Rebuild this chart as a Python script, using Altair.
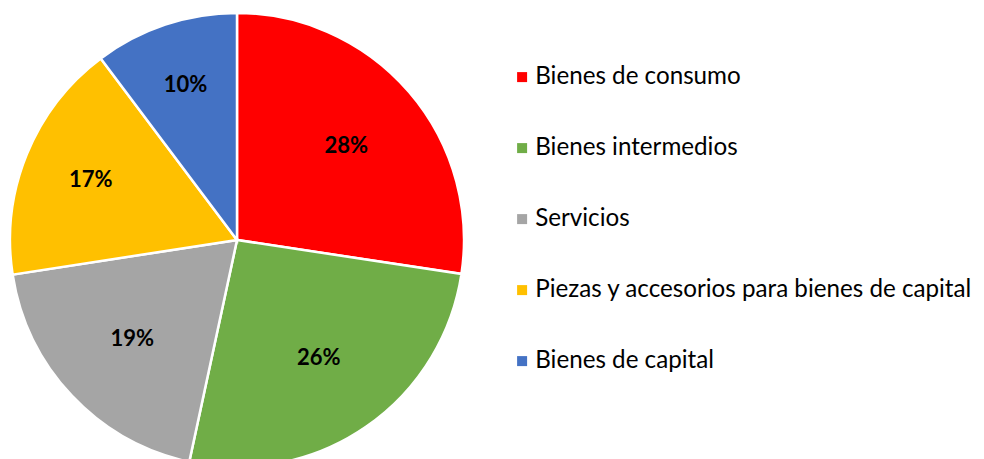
import altair as alt
import pandas as pd

categories = ["Bienes de consumo", "Bienes intermedios", "Servicios",
              "Piezas y accesorios para bienes de capital", "Bienes de capital"]
values = [27.4, 26.0, 19.2, 17.2, 10.25]
labels = ["28%", "26%", "19%", "17%", "10%"]
colors = ["#FF0000", "#70AD47", "#A5A5A5", "#FFC000", "#4472C4"]

df = pd.DataFrame({"cat": categories, "val": values, "lab": labels,
                   "ord": list(range(len(categories)))})

FONT = "Lato"
CX, CY = 229, 232
base = alt.Chart(df).encode(
    theta=alt.Theta("val:Q", stack=True),
    order=alt.Order("ord:Q"),
)

pie = base.mark_arc(radius=227, x=CX, y=CY, stroke="white", strokeWidth=2.5).encode(
    color=alt.Color("cat:N", scale=alt.Scale(domain=categories, range=colors),
                    legend=alt.Legend(title=None, orient="none", legendX=502, legendY=57,
                                      symbolType="square", symbolSize=100,
                                      symbolStrokeWidth=0,
                                      labelFontSize=24.2, labelFont=FONT,
                                      labelColor="#000000", labelOffset=1,
                                      rowPadding=46, labelLimit=600))
)

def label_layer(radius, keep):
    return base.mark_text(radius=radius, x=CX, y=CY, fontSize=22, fontWeight="bold",
                          font=FONT, color="black").encode(
        text=alt.Text("lab:N"),
        opacity=alt.condition(alt.FieldOneOfPredicate(field="lab", oneOf=keep),
                              alt.value(1), alt.value(0)),
    )

t1 = label_layer(144, ["28%", "26%", "19%"])
t2 = label_layer(158, ["17%"])
t3 = label_layer(163, ["10%"])

chart = alt.layer(pie, t1, t2, t3).properties(
    width=968, height=451, padding=0, autosize=alt.AutoSizeParams(type="none")
).configure_view(stroke=None)

chart.save("out.html", embed_options={"renderer": "svg", "actions": False})
